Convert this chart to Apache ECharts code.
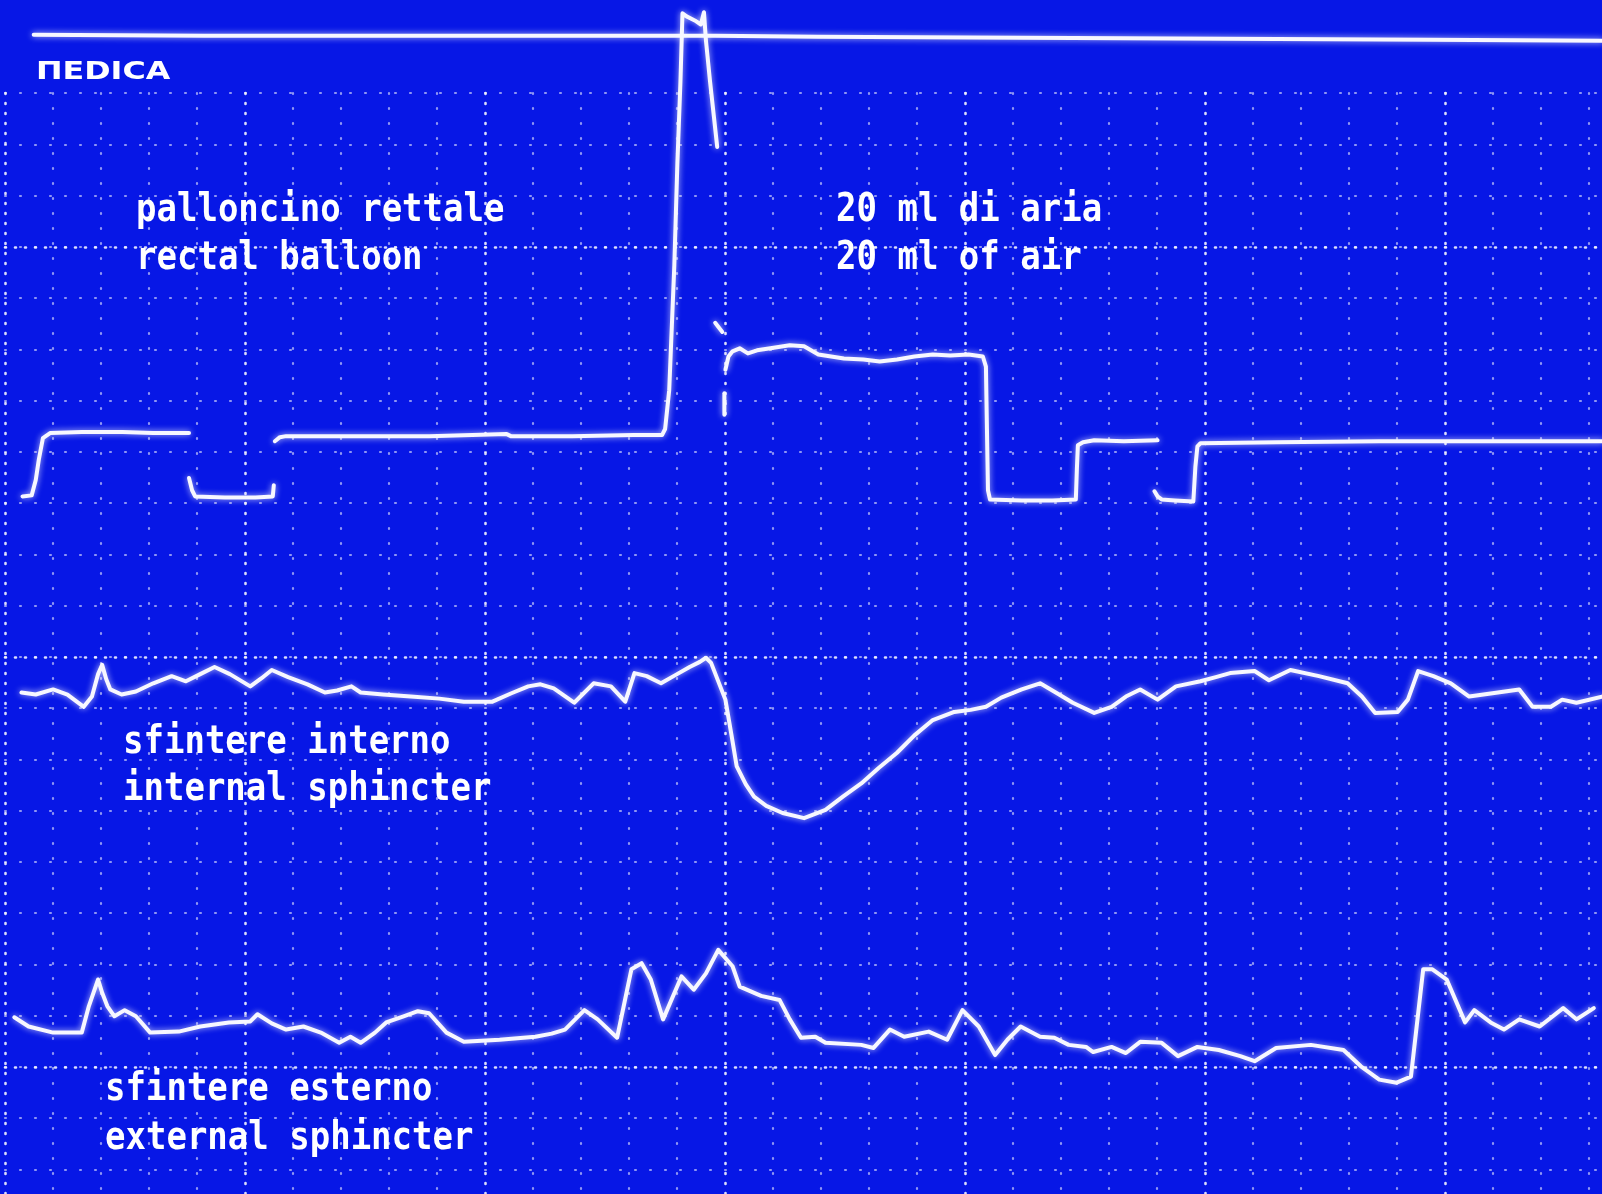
<!DOCTYPE html>
<html>
<head>
<meta charset="utf-8">
<script src="https://cdn.jsdelivr.net/npm/echarts@6/dist/echarts.min.js"></script>
<style>
html,body{margin:0;padding:0;background:#0717e6;}
#chart{width:1602px;height:1194px;}
</style>
</head>
<body>
<div id="chart"></div>
<script>
// ---- Data (time units, deflection units from top) ----
const markerTrace = [[33,34],[200,35],[400,35],[600,35],[665,35],[700,35],[800,36],[1000,37],[1200,38],[1400,39],[1568,40]];

const balloonA = [[22,486],[31,485],[35,470],[38,450],[42,429],[49,424],[80,423],[120,423],[150,424],[185,424]];
const balloonB = [[185,468],[188,480],[191,486],[220,487],[250,487],[267,486],[268,475]];
const balloonC = [[269,432],[274,428],[280,427],[350,427],[420,427],[496,425],[500,427],[560,427],[620,426],[648,426],[651,420],[655,382],[660,260],[663,160],[666,80],[668,13],[672,16],[680,20],[686,24],[689,12],[691,40],[695,80],[702,144]];
const balloonD = [[700,316],[707,325]];
const balloonE = [[709,385],[709,406]];
const balloonF = [[710,362],[713,349],[717,344],[724,341],[732,346],[741,343],[754,341],[773,338],[787,339],[801,347],[826,351],[845,352],[861,354],[878,352],[895,349],[913,347],[930,348],[948,347],[962,349],[965,359],[966,420],[967,480],[969,489],[1000,490],[1030,490],[1053,489],[1054,460],[1055,436],[1060,433],[1071,431],[1100,432],[1133,431]];
const balloonG = [[1130,481],[1133,486],[1137,489],[1150,490],[1168,491],[1170,457],[1172,437],[1175,434],[1250,433],[1350,432],[1450,432],[1568,432]];

const internalSphincter = [[21,678],[35,680],[52,675],[66,680],[82,692],[90,682],[96,660],[100,651],[104,665],[108,675],[119,680],[133,677],[150,669],[168,662],[182,667],[196,660],[210,653],[225,660],[245,672],[256,664],[266,656],[282,663],[301,670],[318,678],[330,676],[344,672],[353,678],[375,680],[402,682],[430,684],[454,687],[482,687],[500,679],[517,672],[529,670],[542,674],[562,688],[581,669],[598,672],[612,687],[621,659],[633,662],[647,669],[661,661],[675,653],[685,648],[691,644],[696,649],[710,685],[716,720],[721,750],[730,768],[738,780],[750,789],[766,796],[787,801],[808,793],[825,780],[843,767],[860,752],[878,737],[895,720],[913,705],[934,697],[950,695],[965,692],[980,683],[1000,675],[1018,669],[1035,679],[1050,688],[1071,698],[1088,692],[1102,682],[1116,675],[1133,685],[1151,672],[1175,667],[1190,663],[1204,659],[1228,657],[1242,666],[1263,656],[1291,662],[1319,669],[1333,682],[1346,698],[1368,697],[1378,685],[1388,657],[1403,662],[1420,669],[1438,682],[1459,679],[1487,675],[1500,692],[1518,692],[1529,685],[1543,688],[1568,682]];

const externalSphincter = [[14,996],[28,1005],[52,1011],[80,1011],[87,985],[96,959],[100,972],[105,985],[112,995],[122,989],[133,995],[147,1011],[175,1010],[196,1005],[224,1001],[245,1000],[252,993],[266,1002],[280,1008],[297,1005],[314,1011],[332,1021],[343,1015],[353,1021],[367,1011],[378,1001],[395,995],[409,990],[420,992],[437,1011],[454,1020],[489,1018],[524,1015],[540,1012],[553,1008],[572,989],[585,998],[604,1016],[618,949],[628,943],[637,959],[649,998],[667,956],[679,969],[691,953],[703,930],[717,946],[724,966],[745,975],[763,979],[773,998],[784,1016],[798,1015],[808,1021],[843,1023],[855,1026],[871,1008],[885,1015],[909,1010],[927,1018],[942,989],[958,1005],[974,1033],[986,1018],[999,1005],[1018,1015],[1032,1016],[1046,1023],[1063,1025],[1070,1030],[1088,1025],[1102,1031],[1116,1020],[1137,1021],[1153,1034],[1172,1025],[1193,1028],[1214,1034],[1228,1039],[1249,1026],[1283,1023],[1315,1028],[1332,1044],[1350,1057],[1367,1060],[1381,1054],[1393,949],[1402,949],[1416,959],[1434,1001],[1443,989],[1459,1001],[1472,1008],[1487,998],[1507,1005],[1530,987],[1543,998],[1560,987]];

const logoText = 'ΠEDICA';
const balloonLabels = ['palloncino rettale', 'rectal balloon'];
const airLabels = ['20 ml di aria', '20 ml of air'];
const internalLabels = ['sfintere interno', 'internal sphincter'];
const externalLabels = ['sfintere esterno', 'external sphincter'];

// ---- Chart ----
const chart = echarts.init(document.getElementById('chart'), null, {renderer: 'canvas'});

const traceColor = '#f7f7ff';
function trace(data, name) {
  return {
    type: 'line', name: name, data: data,
    xAxisIndex: 2, yAxisIndex: 2,
    showSymbol: false, symbol: 'none', silent: true, z: 5,
    lineStyle: {color: traceColor, width: 4, cap: 'round', join: 'round',
      shadowBlur: 6, shadowColor: 'rgba(255,255,255,0.75)'}
  };
}

const majorDots = {color: 'rgba(255,255,255,0.85)', width: 2.6, type: [1, 9], cap: 'round'};
const minorDots = {color: 'rgba(255,255,255,0.55)', width: 2.2, type: [1, 14], cap: 'round'};
const hidden = {axisLine: {show: false}, axisTick: {show: false}, axisLabel: {show: false}};

const monoFont = 'bold 34px "DejaVu Sans Mono", "Liberation Mono", monospace';
function label(text, x, y) {
  return {type: 'text', x: x, y: y, scaleY: 1.15, z: 10, silent: true,
    style: {text: text, fill: '#ffffff', font: monoFont, align: 'left', verticalAlign: 'middle',
      shadowBlur: 4, shadowColor: 'rgba(255,255,255,0.6)'}};
}

const option = {
  backgroundColor: '#0717e6',
  animation: false,
  grid: [
    {left: 5, right: 0, top: 93, bottom: 0},
    {left: 5, right: 0, top: 247, bottom: 0},
    {left: 0, right: 0, top: 0, bottom: 0}
  ],
  xAxis: [
    Object.assign({gridIndex: 0, type: 'value', min: 0, max: 1597, interval: 240,
      minorTick: {show: false, splitNumber: 5},
      splitLine: {show: true, showMinLine: true, showMaxLine: false, lineStyle: majorDots},
      minorSplitLine: {show: true, lineStyle: minorDots}}, hidden),
    {gridIndex: 1, type: 'value', min: 0, max: 1597, show: false},
    {gridIndex: 2, type: 'value', min: 0, max: 1568, show: false}
  ],
  yAxis: [
    Object.assign({gridIndex: 0, type: 'value', inverse: true, min: 0, max: 1101, interval: 51.25,
      splitLine: {show: true, showMinLine: true, showMaxLine: false, lineStyle: minorDots}}, hidden),
    Object.assign({gridIndex: 1, type: 'value', inverse: true, min: 0, max: 947, interval: 410,
      splitLine: {show: true, showMinLine: true, showMaxLine: false, lineStyle: majorDots}}, hidden),
    {gridIndex: 2, type: 'value', inverse: true, min: 0, max: 1169, show: false}
  ],
  series: [
    trace(markerTrace, 'marker'),
    trace(balloonA, 'balloon'), trace(balloonB, 'balloon'), trace(balloonC, 'balloon'),
    trace(balloonD, 'balloon'), trace(balloonE, 'balloon'), trace(balloonF, 'balloon'), trace(balloonG, 'balloon'),
    trace(internalSphincter, 'internal'),
    trace(externalSphincter, 'external')
  ],
  graphic: [
    {type: 'text', x: 36, y: 72, scaleX: 1.27, z: 10, silent: true,
      style: {text: logoText, fill: '#ffffff', font: 'bold 25px "DejaVu Sans", sans-serif',
        align: 'left', verticalAlign: 'middle', shadowBlur: 3, shadowColor: 'rgba(255,255,255,0.6)'}},
    label(balloonLabels[0], 136, 211),
    label(balloonLabels[1], 136, 259),
    label(airLabels[0], 836, 211),
    label(airLabels[1], 836, 259),
    label(internalLabels[0], 123, 743),
    label(internalLabels[1], 123, 790),
    label(externalLabels[0], 105, 1090),
    label(externalLabels[1], 105, 1139)
  ]
};
chart.setOption(option);
</script>
</body>
</html>
